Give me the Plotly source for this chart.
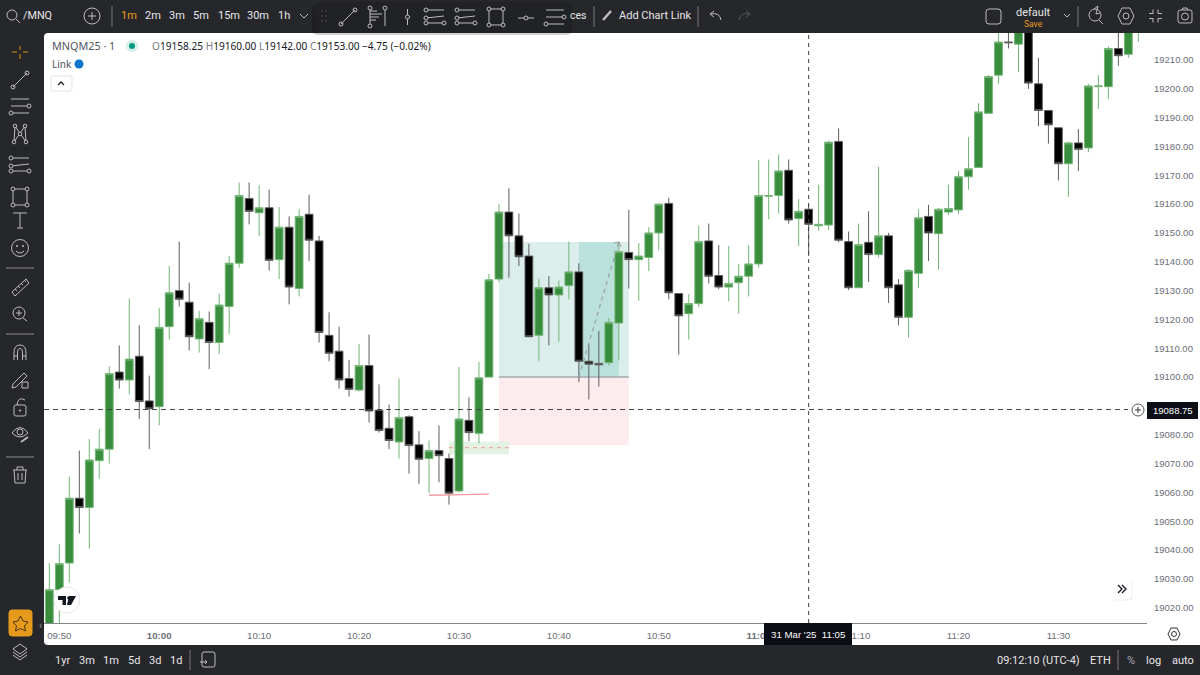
import pandas as pd
import plotly.graph_objects as go

# candles, 1 minute bars from 09:49 to 11:38
opens = [19010, 19026.25, 19035.5, 19058, 19054.75, 19071, 19075, 19101.75, 19099, 19107.25,
         19091.75, 19089.75, 19117.5, 19130, 19126, 19113.25, 19119, 19112, 19124.5, 19139.5,
         19162, 19157, 19158.75, 19140.75, 19152, 19130.75, 19156.5, 19147.25, 19114.5, 19109,
         19099.5, 19095.5, 19104, 19088.5, 19082.25, 19077.5, 19086.25, 19076.5, 19071.75, 19074.5,
         19071.75, 19060.5, 19085, 19080.5, 19100, 19134, 19157.25, 19149, 19142, 19114.5,
         19131, 19128.5, 19131.75, 19136.5, 19105.5, 19104.75, 19105, 19118.75, 19143.25, 19140.75,
         19141.5, 19150, 19160.25, 19129, 19122, 19125.5, 19147.25, 19135.25, 19131.25, 19132.75,
         19135, 19139.25, 19162.75, 19163, 19171.75, 19155, 19158.25, 19152.5, 19152.75, 19181.75,
         19147, 19131, 19146.75, 19142.5, 19149, 19132, 19120.75, 19136, 19155.75, 19149.75,
         19157.25, 19158, 19169.5, 19172.75, 19191.5, 19204.75, 19216.25, 19215.5, 19226, 19201.75,
         19192.5, 19186.5, 19174, 19181.25, 19179.5, 19200.75, 19200.75, 19214, 19212, 19224]
highs = [19035.5, 19042, 19065.5, 19074.5, 19078.5, 19082, 19103.75, 19111, 19127.25, 19118,
         19100.5, 19124, 19138.5, 19147, 19132.75, 19123, 19122.75, 19129, 19142, 19167.5,
         19167.5, 19166.5, 19165, 19159, 19155.75, 19158.25, 19163.25, 19149, 19122.5, 19117.5,
         19106, 19111.5, 19114.75, 19097.5, 19090.5, 19099.5, 19086.75, 19081.25, 19078, 19083.25,
         19073.5, 19103.5, 19093, 19105.25, 19135.75, 19160, 19165.5, 19156.75, 19146.25, 19134.25,
         19135, 19133.5, 19147, 19139.5, 19111.5, 19116, 19120.5, 19147, 19158, 19146.5,
         19152, 19160.25, 19162.25, 19129, 19128.75, 19152.5, 19153.25, 19145.75, 19145.5, 19139.25,
         19145.75, 19175.25, 19175.5, 19177.25, 19175.5, 19161.75, 19160, 19166.75, 19182, 19186.25,
         19150.5, 19153.25, 19157.5, 19173, 19150, 19134, 19137.5, 19158.25, 19159.75, 19158.75,
         19166.75, 19171.5, 19183.25, 19195, 19204.75, 19222, 19221, 19226, 19228, 19210.75,
         19192.5, 19186.5, 19181.75, 19186, 19201.75, 19204.75, 19214.75, 19221, 19226, 19230]
lows = [19005, 19012, 19028.75, 19045.75, 19040.5, 19064.75, 19070, 19096, 19094, 19085.5,
        19075, 19083.25, 19113, 19124.5, 19109.25, 19108.5, 19102.75, 19108, 19115, 19138,
        19153, 19149, 19137, 19134, 19125.25, 19128, 19140.25, 19112, 19105.5, 19096,
        19093.25, 19095, 19084.25, 19080.75, 19075, 19071.75, 19066.5, 19063, 19059.75, 19063.5,
        19055.75, 19060, 19077.75, 19077, 19100, 19133, 19134.5, 19138.5, 19114, 19105.5,
        19111, 19112.25, 19127, 19098.25, 19092.25, 19096.75, 19104, 19105.75, 19130.75, 19126.5,
        19136.75, 19144, 19127, 19107.75, 19113, 19124.25, 19132.5, 19130.5, 19126.25, 19122,
        19128, 19138, 19154.75, 19156.75, 19153.25, 19145.5, 19142, 19150.75, 19151, 19146.75,
        19130.25, 19131, 19133, 19141.5, 19125.75, 19118, 19113.75, 19131, 19140.25, 19137.25,
        19156.25, 19156.5, 19165, 19172.5, 19191.5, 19201.75, 19214, 19205.75, 19200, 19187,
        19181, 19168.25, 19162.5, 19171.5, 19178, 19193, 19196.5, 19208, 19210.75, 19216.25]
closes = [19026.25, 19035.25, 19058, 19054.75, 19071.25, 19075, 19101.25, 19099, 19106.25, 19091.5,
          19089, 19117.25, 19129.25, 19127, 19114, 19120.25, 19112, 19125, 19139.5, 19163,
          19157.5, 19158.75, 19140.5, 19152, 19131.25, 19155.75, 19147.5, 19115.5, 19108.25, 19099,
          19095.75, 19104, 19088.25, 19081.5, 19078, 19086, 19076.25, 19071.5, 19074.5, 19072.75,
          19059.75, 19085.5, 19080.75, 19099.75, 19133.75, 19157.25, 19149, 19141.75, 19114, 19131,
          19128.5, 19131.25, 19136.5, 19105.5, 19104.5, 19104.25, 19119, 19143.5, 19140.75, 19142,
          19150, 19160, 19129.25, 19121.25, 19125.5, 19147, 19135, 19131.25, 19132.5, 19135,
          19139.25, 19163, 19163, 19171.5, 19154.5, 19157.5, 19153, 19153, 19181.5, 19147.5,
          19131, 19146, 19142.5, 19149, 19131, 19120.75, 19137, 19155.25, 19150, 19158.25,
          19158.5, 19169.5, 19172.25, 19192, 19204.25, 19216.25, 19216, 19223, 19202, 19192.5,
          19187.5, 19174, 19181.25, 19179, 19201, 19201, 19214, 19211.5, 19224, 19228]
times = pd.date_range("2025-03-31 09:49", periods=len(opens), freq="min")

# 19090 sits under the crosshair price tag
price_ticks = [p for p in range(19020, 19220, 10) if p != 19090]
time_ticks = ["09:50", "10:00", "10:10", "10:20", "10:30", "10:40", "10:50", "11:00", "11:10", "11:20", "11:30"]
time_labels = ["<b>%s</b>" % t if t in ("10:00", "11:00") else t for t in time_ticks]

day = "2025-03-31 "
cross_time = day + "11:05"
cross_price = 19088.75

# long position tool
pos_start, pos_mid, pos_fill_end, pos_end = day + "10:34", day + "10:42", day + "10:46", day + "10:47"
target, entry, stop = 19146.9, 19100, 19076.4
zone_start, zone_end = day + "10:29", day + "10:35"
zone_top, zone_mid, zone_bot = 19077.6, 19075.5, 19073.2
low_start, low_end = day + "10:27", day + "10:33"
low_left, low_right = 19059, 19059.4

# layout in page pixels
L, R, T, B = 44, 1147, 33, 623
DARK = "#26272b"
ICON = "#bcbcc0"
TEXT = "#e6e6e8"
ORANGE = "#e69a1c"

shapes = []
notes = []


def fx(x):
    return (x - L) / (R - L)


def fy(y):
    return (B - y) / (B - T)


def rect(x0, y0, x1, y1, fill, layer="above", line=None):
    shapes.append(dict(type="rect", xref="paper", yref="paper", x0=fx(x0), x1=fx(x1), y0=fy(y0), y1=fy(y1),
                       fillcolor=fill, layer=layer, line=dict(color=line or "rgba(0,0,0,0)", width=1)))


def path(d, color=ICON, width=1, fill=None, layer="above"):
    shapes.append(dict(type="path", xref="paper", yref="paper", path=d, fillcolor=fill or "rgba(0,0,0,0)",
                       layer=layer, line=dict(color=color, width=width)))


def poly(points, color=ICON, width=1, fill=None, closed=False):
    d = "M" + " L".join("%.5f,%.5f" % (fx(x), fy(y)) for x, y in points)
    path(d + (" Z" if closed else ""), color, width, fill)


def rrect(x0, y0, x1, y1, r, fill=None, color=ICON, width=1, layer="above"):
    d = "M%.5f,%.5f" % (fx(x0 + r), fy(y0))
    for ax, ay, bx, by, cx, cy in [(x1 - r, y0, x1, y0, x1, y0 + r), (x1, y1 - r, x1, y1, x1 - r, y1),
                                   (x0 + r, y1, x0, y1, x0, y1 - r), (x0, y0 + r, x0, y0, x0 + r, y0)]:
        d += " L%.5f,%.5f Q%.5f,%.5f %.5f,%.5f" % (fx(ax), fy(ay), fx(bx), fy(by), fx(cx), fy(cy))
    path(d + " Z", color, width, fill, layer)


def dot(x, y, r, color=ICON, fill=None, width=1):
    shapes.append(dict(type="circle", xref="paper", yref="paper", x0=fx(x - r), x1=fx(x + r), y0=fy(y - r), y1=fy(y + r),
                       fillcolor=fill or "rgba(0,0,0,0)", layer="above", line=dict(color=color, width=width)))


def label(x, y, s, size=12, color=TEXT, anchor="center", family="Roboto"):
    notes.append(dict(xref="paper", yref="paper", x=fx(x), y=fy(y), text=s, showarrow=False, xanchor=anchor,
                      yanchor="middle", borderpad=0, font=dict(family=family, size=size, color=color)))


def line_icon(x, y):
    poly([(x - 7, y + 7), (x + 7, y - 7)])
    dot(x - 7, y + 7, 2)
    dot(x + 7, y - 7, 2)


def hlines_icon(x, y):
    for dy in (-7, 0, 7):
        poly([(x - 9, y + dy), (x + 9, y + dy)])
    dot(x + 9, y, 2, fill=DARK)
    dot(x - 9, y + 7, 2, fill=DARK)


def fib_icon(x, y):
    for dy in (-7, 6):
        poly([(x - 9, y + dy), (x + 9, y + dy)])
    poly([(x - 9, y + 1), (x + 9, y - 1)], width=1)
    for px_, py_ in [(x - 9, y - 7), (x + 9, y + 6), (x - 9, y + 6), (x - 9, y + 1)]:
        dot(px_, py_, 2, fill=DARK)


def box_icon(x, y):
    poly([(x - 7, y - 8), (x + 7, y - 8), (x + 7, y + 8), (x - 7, y + 8)], closed=True)
    for sx in (-7, 7):
        for sy in (-8, 8):
            dot(x + sx, y + sy, 2, fill=DARK)


def gear_icon(x, y):
    poly([(x - 8, y), (x - 4, y - 8), (x + 4, y - 8), (x + 8, y), (x + 4, y + 8), (x - 4, y + 8)], closed=True)
    dot(x, y, 3)


# chart panel
rrect(44, 33, 1204, 645, 4, fill="#ffffff", color="#ffffff", width=0, layer="below")

# position tool, under the candles
shapes += [
    dict(type="rect", x0=pos_start, x1=pos_end, y0=entry, y1=target, xref="x", yref="y", layer="below",
         fillcolor="#dbeeeb", line_width=0),
    dict(type="rect", x0=pos_mid, x1=pos_fill_end, y0=entry, y1=target, xref="x", yref="y", layer="below",
         fillcolor="#bbe1dd", line_width=0),
    dict(type="rect", x0=pos_start, x1=pos_end, y0=stop, y1=entry, xref="x", yref="y", layer="below",
         fillcolor="#fdecee", line_width=0),
    dict(type="line", x0=pos_start, x1=pos_end, y0=entry, y1=entry, xref="x", yref="y", layer="below",
         line=dict(color="#a3a8ab", width=1.5)),
    dict(type="line", x0=pos_mid, x1=pos_fill_end, y0=entry, y1=target, xref="x", yref="y", layer="above",
         line=dict(color="#9a9ea3", width=1.2, dash="4px,4px")),
    dict(type="rect", x0=zone_start, x1=zone_end, y0=zone_bot, y1=zone_top, xref="x", yref="y", layer="below",
         fillcolor="#e4f2e3", line_width=0),
    dict(type="line", x0=zone_start, x1=zone_end, y0=zone_mid, y1=zone_mid, xref="x", yref="y", layer="below",
         line=dict(color="#ef9a9a", width=1, dash="4px,4px")),
    dict(type="line", x0=low_start, x1=low_end, y0=low_left, y1=low_right, xref="x", yref="y", layer="above",
         line=dict(color="#f59aa0", width=1.4)),
    # crosshair
    dict(type="line", x0=cross_time, x1=cross_time, y0=0, y1=1, xref="x", yref="paper", layer="above",
         line=dict(color="#444444", width=1, dash="4px,4px")),
    dict(type="line", x0=0, x1=(1128 - L) / (R - L), y0=cross_price, y1=cross_price, xref="paper", yref="y", layer="above",
         line=dict(color="#444444", width=1, dash="5px,4px")),
]

# arrow tip of the trade path
poly([(614, 243), (619, 242), (621, 247)], color="#9a9ea3", width=1)

# crosshair labels
rect(1147, 402, 1198, 419, "#0b0e14")
label(1172.5, 410.5, "19088.75", 9.5, "#ffffff", family="Liberation Sans")
dot(1138, 410, 6, color="#555555", fill="#ffffff", width=1)
poly([(1135, 410), (1141, 410)], color="#333333", width=1)
poly([(1138, 407), (1138, 413)], color="#333333", width=1)
rect(764, 623, 852, 645, "#0b0e14")
label(808, 634, "31 Mar '25 &nbsp;11:05", 9.7, "#ffffff", family="Liberation Sans")

# legend in chart
label(51, 46, "MNQM25 · 1", 10.8, "#50535e", "left", family="Noto Sans")
dot(132, 46, 6, color="#d5efe8", fill="#d5efe8", width=0)
dot(132, 46, 3, color="#089981", fill="#089981", width=0)
ohlc = ["O19158.25", "H19160.00", "L19142.00", "C19153.00"]
ohlc_text = " ".join('<span style="color:#787b86">%s</span>%s' % (v[0], v[1:]) for v in ohlc)
label(151, 46, ohlc_text + " −4.75 (−0.02%)", 10.1, "#131722", "left", family="Noto Sans")
label(51, 64, "Link", 10, "#50535e", "left", family="Noto Sans")
dot(79, 64, 4.5, color="#0b75c9", fill="#0b75c9", width=0)
rrect(51, 76, 72, 91, 2, fill="#ffffff", color="#e0e3eb")
poly([(58, 85), (61, 82), (64, 85)], color="#222222", width=1.3)

# tradingview badge
dot(67, 600, 13, color="#e6e8ef", fill="#ffffff", width=1)
poly([(58, 596), (66, 596), (66, 605), (62.5, 605), (62.5, 600), (58, 600)], color="#131722", fill="#131722", width=0, closed=True)
poly([(69, 596), (76, 596), (71, 605), (67, 605)], color="#131722", fill="#131722", width=0, closed=True)
dot(69, 598, 1.8, color="#131722", fill="#131722", width=0)

# scroll button and axis settings
rrect(1112, 580, 1132, 600, 3, fill="#f4f4f6", color="#eeeeef", layer="above")
rrect(1111, 579, 1131, 599, 3, fill="#ffffff", color="#ffffff", layer="above")
poly([(1118, 585), (1122, 589), (1118, 593)], color="#131722", width=1.3)
poly([(1122, 585), (1126, 589), (1122, 593)], color="#131722", width=1.3)
poly([(1168, 634), (1171, 628), (1177, 628), (1180, 634), (1177, 640), (1171, 640)], color="#333333", closed=True)
dot(1174, 634, 2.5, color="#333333")

# top bar
dot(12, 15, 5)
poly([(16, 19), (20, 23)])
label(22, 16, "/MNQ", 10.8, TEXT, "left")
dot(92, 16, 8)
poly([(88, 16), (96, 16)])
poly([(92, 12), (92, 20)])
poly([(112, 6), (112, 27)], color="#777777")
for x, s, c in [(129, "1m", ORANGE), (153, "2m", TEXT), (177, "3m", TEXT), (201, "5m", TEXT),
                (228.5, "15m", TEXT), (258, "30m", TEXT), (284, "1h", TEXT)]:
    label(x, 16, s, 11, c)
poly([(300, 14), (304, 18), (308, 14)])
label(578, 16, "ces", 10.5)
poly([(594, 6), (594, 27)], color="#777777")
poly([(603, 20), (611, 11)], width=2.5)
label(618, 16, "Add Chart Link", 11, TEXT, "left")
poly([(698, 6), (698, 27)], color="#777777")
path("M%.5f,%.5f L%.5f,%.5f L%.5f,%.5f M%.5f,%.5f Q%.5f,%.5f %.5f,%.5f" % (
    fx(714), fy(11), fx(710), fy(14), fx(714), fy(17), fx(710), fy(14), fx(720), fy(12), fx(721), fy(20)))
path("M%.5f,%.5f L%.5f,%.5f L%.5f,%.5f M%.5f,%.5f Q%.5f,%.5f %.5f,%.5f" % (
    fx(746), fy(11), fx(750), fy(14), fx(746), fy(17), fx(750), fy(14), fx(740), fy(12), fx(739), fy(20)), color="#55565b")
rrect(986, 9, 1001, 24, 3)
label(1033, 12, "default", 11)
label(1033, 24, "Save", 8.5, ORANGE)
poly([(1064, 14), (1067, 17), (1070, 14)])
poly([(1078, 6), (1078, 27)], color="#777777")
dot(1095, 15, 6)
poly([(1099, 20), (1103, 24)])
poly([(1094, 9), (1098, 6), (1096, 14), (1100, 13)], width=1)
gear_icon(1126, 16)
for sx, sy in [(-1, -1), (1, -1), (-1, 1), (1, 1)]:
    cx, cy = 1155.5 + sx * 2.5, 16 + sy * 2.5
    poly([(cx + sx * 4, cy), (cx, cy), (cx, cy + sy * 4)])
rrect(1178, 10, 1192, 23, 2)
dot(1185, 16.5, 3.5)
poly([(1182, 10), (1183, 8), (1187, 8), (1188, 10)])

# floating toolbar
rrect(312, 4, 572, 35, 6, fill="rgba(0,0,0,0.18)", color="rgba(0,0,0,0)", width=0)
rrect(315, 3, 570, 32, 6, fill="#212226", color="#212226")
for dx in (0, 4):
    for dy in (-5, 0, 5):
        dot(322 + dx, 16 + dy, 0.8, color="#55565b", fill="#55565b", width=0)
line_icon(348, 17)
poly([(370, 10), (370, 24)])
for y_, w in [(11, 7), (14, 12), (17, 9), (20, 6)]:
    poly([(370, y_), (370 + w, y_)], width=1)
dot(370, 8, 2, fill="#212226")
dot(370, 26, 2, fill="#212226")
poly([(385, 10), (385, 26)])
dot(385, 8, 2, fill="#212226")
poly([(407.5, 9), (407.5, 25)])
dot(407.5, 17, 2, fill="#212226")
fib_icon(435, 17)
fib_icon(466, 17)
box_icon(496, 17)
poly([(518, 18), (534, 18)])
dot(526, 18, 2, fill="#212226")
hlines_icon(555, 17)

# left toolbar
for (a, b) in [((20, 46), (20, 50)), ((20, 54), (20, 59)), ((12, 52), (17, 52)), ((23, 52), (28, 52))]:
    poly([a, b], color="#a8751f", width=1.4)
line_icon(20, 80)
hlines_icon(20, 106)
poly([(14, 142), (15, 126), (26, 142), (25, 126), (14, 142)], width=1)
for p_ in [(14, 142), (15, 126), (26, 142), (25, 126), (20, 134)]:
    dot(p_[0], p_[1], 1.8, fill=DARK)
fib_icon(20, 165)
box_icon(20, 197)
poly([(13, 213), (27, 213)])
poly([(20, 213), (20, 228)])
poly([(17, 228), (23, 228)])
dot(20, 248, 8.5)
dot(17, 246, 0.6, fill=ICON)
dot(23, 246, 0.6, fill=ICON)
path("M%.5f,%.5f Q%.5f,%.5f %.5f,%.5f" % (fx(16), fy(251), fx(20), fy(255), fx(24), fy(251)))
poly([(6, 268), (34, 268)], color="#8a8a8d")
poly([(12, 292), (26, 279), (29, 283), (15, 296)], closed=True)
for i in range(4):
    poly([(15 + 3 * i, 289 - 3 * i), (17 + 3 * i, 291 - 3 * i)], width=1)
dot(19, 313, 6)
poly([(16, 313), (22, 313)])
poly([(19, 310), (19, 316)])
poly([(23, 318), (27, 321)])
poly([(6, 334), (34, 334)], color="#8a8a8d")
path("M%.5f,%.5f L%.5f,%.5f Q%.5f,%.5f %.5f,%.5f Q%.5f,%.5f %.5f,%.5f L%.5f,%.5f" % (
    fx(14), fy(360), fx(14), fy(353), fx(14), fy(345), fx(20), fy(345), fx(26), fy(345), fx(26), fy(353), fx(26), fy(360)))
path("M%.5f,%.5f L%.5f,%.5f Q%.5f,%.5f %.5f,%.5f Q%.5f,%.5f %.5f,%.5f L%.5f,%.5f" % (
    fx(17.5), fy(360), fx(17.5), fy(353), fx(17.5), fy(348.5), fx(20), fy(348.5), fx(22.5), fy(348.5), fx(22.5), fy(353), fx(22.5), fy(360)))
poly([(14, 356), (17.5, 356)])
poly([(22.5, 356), (26, 356)])
poly([(13, 384), (24, 373), (27, 376), (16, 387), (12, 388)], closed=True)
rect(22, 382, 28, 388, DARK, line=ICON)
rrect(14, 405, 26, 416, 2)
path("M%.5f,%.5f Q%.5f,%.5f %.5f,%.5f" % (fx(17), fy(405), fx(18), fy(396), fx(25), fy(400)))
dot(20, 410.5, 0.7, fill=ICON)
path("M%.5f,%.5f Q%.5f,%.5f %.5f,%.5f Q%.5f,%.5f %.5f,%.5f" % (
    fx(12), fy(433), fx(20), fy(422), fx(28), fy(433), fx(20), fy(441), fx(12), fy(433)))
dot(20, 432, 3)
poly([(21, 442), (28, 437)], width=1.8)
poly([(6, 457), (34, 457)], color="#8a8a8d")
poly([(14, 470), (15, 483), (25, 483), (26, 470)])
poly([(13, 470), (27, 470)])
poly([(17, 470), (17, 467), (23, 467), (23, 470)])
poly([(18, 473), (18, 480)])
poly([(22, 473), (22, 480)])

# favourites and layers
rrect(9, 610, 32, 636, 3, fill=ORANGE, color=ORANGE)
poly([(20.5, 616), (23, 621), (28, 622), (24.5, 626), (25.5, 631), (20.5, 628.5), (15.5, 631), (16.5, 626), (13, 622), (18, 621)],
     color="#4a3510", closed=True)
label(40, 625, "‹", 11, "#9a9a9d")
poly([(20, 644), (27, 649), (20, 654), (13, 649)], closed=True)
poly([(13, 652), (20, 657), (27, 652)])
poly([(13, 655), (20, 660), (27, 655)])

# bottom bar
for x, s in [(62, "1yr"), (87, "3m"), (111, "1m"), (134, "5d"), (155, "3d"), (176, "1d")]:
    label(x, 660, s, 11)
poly([(190, 650), (190, 670)], color="#777777")
rrect(202, 652, 215, 667, 2)
poly([(200, 662), (207, 662)])
poly([(205, 660), (207, 662), (205, 664)])
label(1081, 660, "09:12:10 (UTC-4)", 11, TEXT, "right")
label(1100, 660, "ETH", 11)
poly([(1118, 650), (1118, 670)], color="#777777")
label(1131, 660, "%", 11, "#a8a8ab")
label(1153, 660, "log", 11)
label(1183, 660, "auto", 11)

fig = go.Figure(go.Candlestick(
    x=times, open=opens, high=highs, low=lows, close=closes, hoverinfo="skip", whiskerwidth=0,
    increasing=dict(line=dict(color="#74b577", width=1), fillcolor="#388e3c"),
    decreasing=dict(line=dict(color="#5e5e5e", width=1), fillcolor="#000000"),
))
fig.update_layout(
    width=1200, height=675, showlegend=False, boxgap=0.22, boxgroupgap=0,
    margin=dict(l=L, r=1200 - R, t=T, b=675 - B),
    paper_bgcolor=DARK, plot_bgcolor="rgba(0,0,0,0)",
    shapes=shapes, annotations=notes,
    xaxis=dict(type="date", range=["2025-03-31 09:48:28", "2025-03-31 11:38:52"], rangeslider_visible=False,
               automargin=False, tickmode="array", tickvals=[day + t for t in time_ticks], ticktext=time_labels,
               showgrid=False, zeroline=False, showline=True, linecolor="#85878d", linewidth=1, ticks="",
               ticklabelstandoff=3, tickfont=dict(family="Liberation Sans", size=9.7, color="#6a6d78")),
    yaxis=dict(side="right", range=[19014.7, 19219.37], tickmode="array", tickvals=price_ticks, automargin=False,
               tickformat=".2f", showgrid=False, zeroline=False, showline=False, ticks="",
               ticklabelstandoff=6, tickfont=dict(family="Liberation Sans", size=9.5, color="#6a6d78")),
)

fig.write_html("out.html", config=dict(displayModeBar=False),
               post_script="document.body.style.margin='0';document.body.style.overflow='hidden';")
